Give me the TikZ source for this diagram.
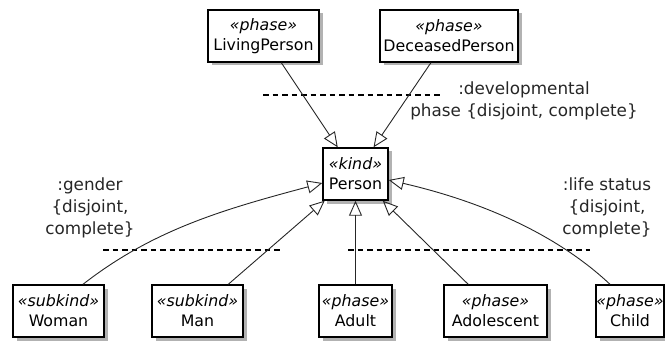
\documentclass[tikz,border=0pt]{standalone}
\usepackage{fontspec}
\setmainfont{DejaVu Sans}
\usetikzlibrary{arrows.meta,shadows}
\begin{document}
\begin{tikzpicture}[x=1pt,y=1pt,
  cls/.style={draw=black,line width=1.4pt,fill=white,rectangle,minimum height=52pt,
    inner sep=0pt,align=center,font=\fontsize{15.8}{20}\selectfont,
    drop shadow={shadow xshift=3.5pt,shadow yshift=-3.5pt,fill=black,opacity=0.3}},
  lbl/.style={align=center,font=\fontsize{16.8}{22}\selectfont,text=black!85},
  gen/.style={draw=black!85,line width=0.9pt,-{Triangle[open,length=15pt,width=13pt,line width=0.9pt]}},
  dashline/.style={draw=black,line width=1.7pt,dash pattern=on 5.5pt off 4pt}]
\useasboundingbox (0,0) rectangle (665,-345);
% nodes
\node[cls,minimum width=111pt] (lp) at (263.5,-36) {{\itshape «phase»}\\LivingPerson};
\node[cls,minimum width=138pt] (dp) at (449,-36) {{\itshape «phase»}\\DeceasedPerson};
\node[cls,minimum width=65pt] (person) at (355.5,-174) {{\itshape «kind»}\\Person};
\node[cls,minimum width=91pt] (woman) at (58.5,-311) {{\itshape «subkind»}\\Woman};
\node[cls,minimum width=91pt] (man) at (197.5,-311) {{\itshape «subkind»}\\Man};
\node[cls,minimum width=73pt] (adult) at (355.5,-311) {{\itshape «phase»}\\Adult};
\node[cls,minimum width=103pt] (adol) at (495.5,-311) {{\itshape «phase»}\\Adolescent};
\node[cls,minimum width=68pt] (child) at (630,-311) {{\itshape «phase»}\\Child};
% labels
\node[lbl] (devlbl) at (524,-100.5) {:developmental\\phase \{disjoint, complete\}};
\node[lbl] (genlbl) at (90,-207.5) {:gender\\\{disjoint,\\complete\}};
\node[lbl] (lifelbl) at (607,-207.5) {:life status\\\{disjoint,\\complete\}};
% dashed lines
\draw[dashline] (263,-95) -- (443,-95);
\draw[dashline] (103,-250) -- (283,-250);
\draw[dashline] (348,-250) -- (590,-250);
% connectors
\draw[gen] (lp) -- (person);
\draw[gen] (dp) -- (person);
\draw[gen] (man) -- (person);
\draw[gen] (adult) -- (person);
\draw[gen] (adol) -- (person);
\draw[gen] ([xshift=24.5pt]woman.north) .. controls +(71,55.4) and +(-96.6,-25.9) .. ([yshift=-9pt]person.west);
\draw[gen] ([xshift=-20pt]child.north) .. controls +(-51,48) and +(97.4,-22.5) .. ([yshift=-6pt]person.east);
\end{tikzpicture}
\end{document}
